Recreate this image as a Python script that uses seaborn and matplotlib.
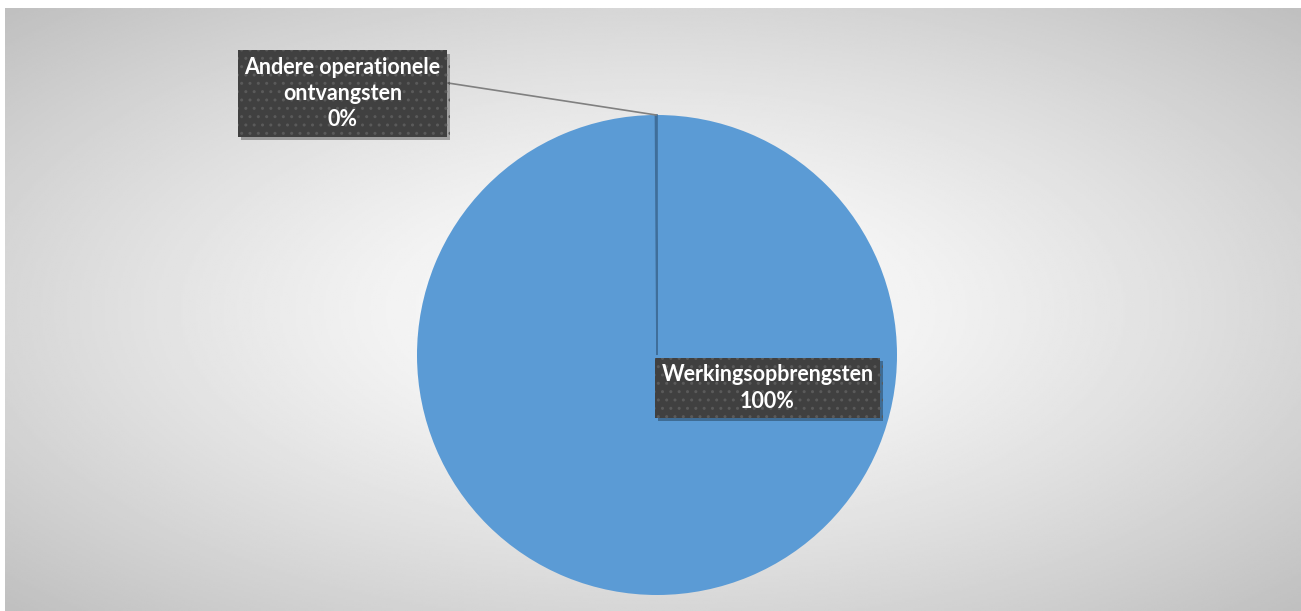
import numpy as np
import matplotlib
matplotlib.use('Agg')
import matplotlib.pyplot as plt
import matplotlib.patheffects as pe
import seaborn as sns

categories = ['Werkingsopbrengsten', 'Andere operationele ontvangsten']
values = [99.9, 0.1]
pct_labels = ['100%', '0%']
colors = ['#5B9BD5', '#ED7D31']

sns.set_theme(style='white')
plt.rcParams['font.family'] = ['Lato', 'DejaVu Sans']

W, H = 1301, 611
fig = plt.figure(figsize=(W / 100, H / 100), dpi=100)
fig.patch.set_facecolor('white')

# radial grey background
bg = fig.add_axes([5 / W, 0, 1 - 5 / W, 1 - 8 / H])
yy, xx = np.mgrid[0:1:300j, 0:1:600j]
d = np.sqrt(((xx - 0.5) / 0.5) ** 2 + ((yy - 0.5) / 0.5) ** 2) / np.sqrt(2)
shade = 1.0 - 0.25 * np.clip(d, 0, 1) ** 1.3
bg.imshow(shade, cmap='gray', vmin=0, vmax=1, aspect='auto', extent=[0, 1, 0, 1])
bg.set_axis_off()

# pie axes: centre (657,355) radius 240 px
cx, cy, r = 657, 355, 240
ax = fig.add_axes([(cx - r) / W, (H - cy - r) / H, 2 * r / W, 2 * r / H])
wedges, _ = ax.pie(values, colors=colors, startangle=90, counterclock=False,
                   radius=1, wedgeprops=dict(linewidth=0))
wedges[1].set_edgecolor('#3F6E9A')
wedges[1].set_linewidth(1.2)
ax.set_xlim(-1, 1)
ax.set_ylim(-1, 1)
ax.set_aspect('equal')
ax.set_axis_off()


def px2d(px, py):
    return (px - cx) / r, (cy - py) / r


box = dict(boxstyle='square,pad=0.3', facecolor='#404040', edgecolor='#5a5a5a',
           hatch='..', linewidth=0)

label_pos = [px2d(767.5, 388), px2d(342.5, 93.5)]
for cat, pct, (lx, ly) in zip(categories, pct_labels, label_pos):
    txt = f'{cat}\n{pct}'
    if len(cat) > 25:
        txt = 'Andere operationele\nontvangsten\n' + pct
    t = ax.text(lx, ly, txt, ha='center', va='center', fontsize=15.5, fontweight='bold',
                color='white', bbox=box, linespacing=1.3, clip_on=False, zorder=5)
    t.get_bbox_patch().set_path_effects(
        [pe.SimplePatchShadow(offset=(2.5, -2.5), shadow_rgbFace='black', alpha=0.3),
         pe.Normal()])

# leader line for the tiny slice
w = wedges[1]
mid = np.deg2rad((w.theta1 + w.theta2) / 2)
ex, ey = np.cos(mid), np.sin(mid)
sx, sy = px2d(448, 83)
ax.plot([sx, ex], [sy, ey], color='#808080', linewidth=1.2, clip_on=False, zorder=3)

fig.savefig('out.png', dpi=100)
